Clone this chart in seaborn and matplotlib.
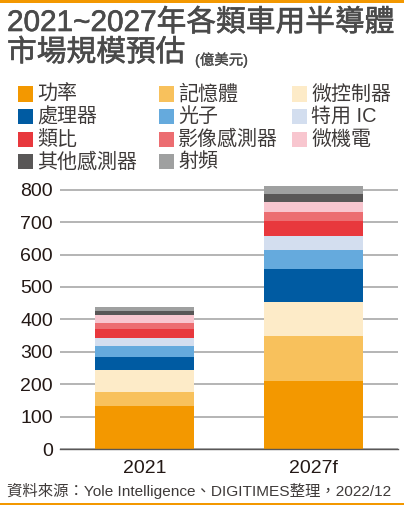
import numpy as np
import pandas as pd
import seaborn as sns
import matplotlib.pyplot as plt
import matplotlib.patheffects as pe
from matplotlib.patches import Rectangle

sns.set_style("white")
plt.rcParams["font.family"] = ["Liberation Sans", "Noto Sans CJK TC"]

W, H, DPI = 404, 505, 100
TEXT = "#3e3a39"
ORANGE = "#f39800"

years = ["2021", "2027f"]
segments = ["功率", "記憶體", "微控制器", "處理器", "光子", "特用 IC",
            "類比", "影像感測器", "微機電", "其他感測器", "射頻"]
values_2021 = [134, 43, 67, 39, 34, 26.5, 28, 16.5, 26.5, 12.5, 11.5]
values_2027 = [211, 139, 105, 100, 59.5, 44, 44.5, 27.5, 33, 23, 23.5]
colors = ["#f39800", "#f8c15c", "#fdebc8", "#005ba2", "#65aadd", "#d3deef",
          "#e8383d", "#ec6d71", "#f8c6cf", "#595757", "#9fa0a0"]

df = pd.DataFrame({
    "segment": segments * 2,
    "year": [years[0]] * len(segments) + [years[1]] * len(segments),
    "value": values_2021 + values_2027,
})
df["top"] = df.groupby("year")["value"].cumsum()

fig = plt.figure(figsize=(W / DPI, H / DPI), dpi=DPI)
ax = fig.add_axes([60 / W, 1 - 449 / H, 338 / W, 265.8 / H])

# draw stacked bars from the top layer down so each covers the one below
for seg, c in zip(reversed(segments), reversed(colors)):
    sub = df[df["segment"] == seg]
    sns.barplot(data=sub, x="year", y="top", order=years, color=c,
                saturation=1, width=0.58, errorbar=None, linewidth=0,
                ax=ax, zorder=2)

ax.set_xlim(-0.5, 1.5)
ax.set_ylim(0, 820)
ax.set_yticks(range(0, 801, 100))
ax.set_xlabel("")
ax.set_ylabel("")
ax.grid(axis="y", color="#a0a0a0", linewidth=1.1)
ax.set_axisbelow(True)
for s in ["top", "right", "left"]:
    ax.spines[s].set_visible(False)
ax.spines["bottom"].set_color("#595757")
ax.spines["bottom"].set_linewidth(1.0)
ax.spines["bottom"].set_zorder(3)
ax.tick_params(axis="y", length=0, pad=5, labelsize=14, labelcolor="#231815")
ax.tick_params(axis="x", which="major", length=0, pad=8, labelsize=14,
               labelcolor="#231815")
ax.set_xticks([-0.5, 0.5, 1.5], minor=True)
ax.tick_params(axis="x", which="minor", length=3.5, width=1.0,
               color="#595757", direction="out")

# title, thickened a little with a stroke
title_color = "#4a4a4a"
title_kw = dict(color=title_color, va="center", ha="left")
big = [pe.withStroke(linewidth=0.45, foreground=title_color)]
small = [pe.withStroke(linewidth=0.2, foreground=title_color)]
fig.text(7 / W, 1 - 23 / H, "2021~2027年各類車用半導體", fontsize=21.4,
         path_effects=big, **title_kw)
fig.text(7 / W, 1 - 53 / H, "市場規模預估", fontsize=21.4,
         path_effects=big, **title_kw)
fig.text(195 / W, 1 - 60 / H, "(億美元)", fontsize=10.4,
         path_effects=small, **title_kw)

# legend, laid out row by row in three columns
cols_x = [18, 159, 292]
rows_y = [94, 116.7, 139.3, 161.7]
for i, (seg, c) in enumerate(zip(segments, colors)):
    x, y = cols_x[i % 3], rows_y[i // 3]
    fig.add_artist(Rectangle((x / W, 1 - (y + 7.5) / H), 15 / W, 15 / H,
                             transform=fig.transFigure, color=c, lw=0))
    fig.text((x + 19) / W, 1 - y / H, seg, fontsize=14.4, color=TEXT,
             va="center", ha="left")

# source
fig.text(7 / W, 1 - 491 / H,
         "資料來源：Yole Intelligence、DIGITIMES整理，2022/12",
         fontsize=11.1, color=TEXT, va="center", ha="left")

# orange frame strips
fig.add_artist(Rectangle((0, 1 - 3 / H), 1, 3 / H, transform=fig.transFigure,
                         color=ORANGE, lw=0))
fig.add_artist(Rectangle((0, 0), 1, 2.5 / H, transform=fig.transFigure,
                         color=ORANGE, lw=0))

fig.savefig("out.png", dpi=DPI)
